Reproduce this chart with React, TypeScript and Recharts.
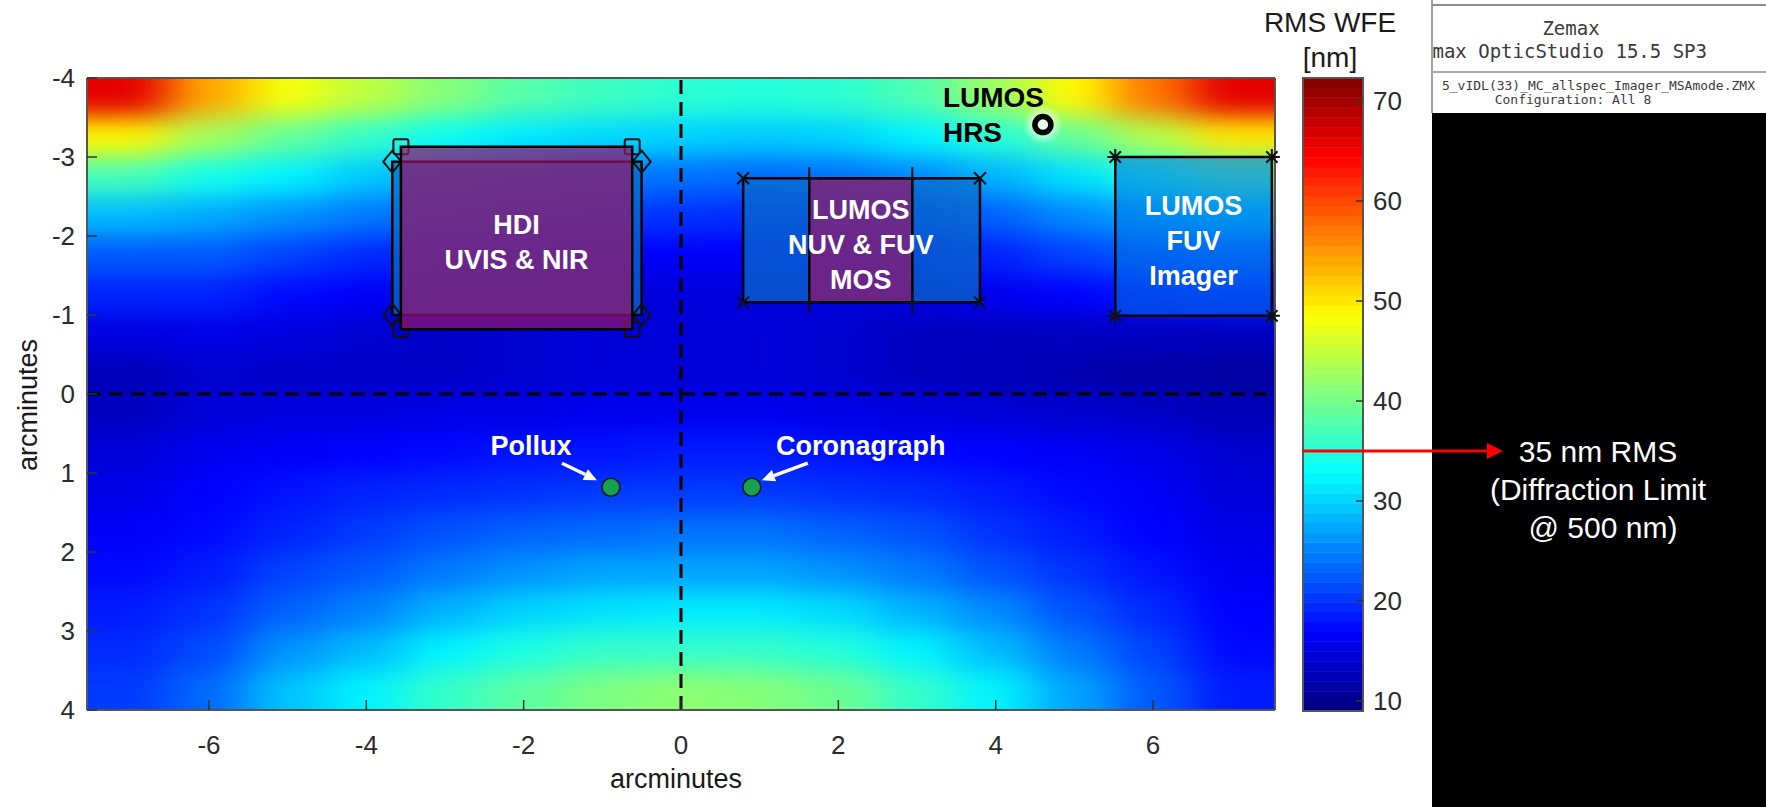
import React from 'react'
import { ScatterChart, Scatter, XAxis, YAxis, ReferenceArea, ReferenceLine } from 'recharts'

// RMS wavefront error over the field, sampled on a 1' x 0.5' grid (arcmin, nm)
const FIELD_X = [-7, -6, -5, -4, -3, -2, -1, 0, 1, 2, 3, 4, 5, 6, 7]
const FIELD_Y = [-3.75, -3.25, -2.75, -2.25, -1.75, -1.25, -0.75, -0.25, 0.25, 0.75, 1.25, 1.75, 2.25, 2.75, 3.25, 3.75]
const RMS_WFE = [
  [66, 54, 48, 44.5, 41, 38, 36.5, 35.5, 35, 35.5, 37.5, 42.5, 49, 57, 66],
  [49, 43, 39, 36, 33.5, 31.5, 30.5, 30, 29.5, 30, 32, 35, 39, 44, 50],
  [37, 34, 32, 29.5, 27.5, 26, 24.5, 24, 23.5, 24, 25.5, 28, 31, 34.5, 38],
  [28.5, 27.5, 26, 24.5, 23, 21.5, 20.5, 20, 19.5, 20, 21, 23, 25.5, 27.5, 29],
  [22.5, 22.5, 21, 19.5, 18.5, 17.5, 17, 16.5, 16.5, 17, 17.5, 19, 21, 22.5, 23],
  [19, 19, 17.5, 16.5, 15.5, 15, 14.8, 14.8, 14.8, 14.8, 15, 16, 17, 18.5, 19],
  [15, 15.5, 15, 14, 13.5, 14, 14.5, 14.5, 14.5, 14, 13, 13, 13, 13, 13],
  [12.5, 14, 13.5, 13.5, 13.5, 14, 14.5, 14.5, 14.5, 14, 13, 12.5, 12, 11.5, 11],
  [13, 14.5, 15, 15, 15.5, 15.5, 16, 16, 16, 15.5, 15, 14.5, 14, 13.5, 12.5],
  [14.5, 16, 16.5, 17, 17.5, 18, 18, 18.5, 18.5, 18, 17.5, 17, 16.5, 15.5, 14],
  [15.5, 17, 18, 19, 19.5, 20, 20.5, 20.5, 20.5, 20, 19.5, 18.5, 17.5, 16.5, 14.5],
  [16.5, 17.5, 19, 20.5, 22, 23, 23.5, 24, 24, 23, 22, 20, 18.5, 17, 15.5],
  [17.5, 18.5, 21, 22.5, 24.5, 26, 27, 27, 27, 26, 24.5, 22, 20, 18, 16],
  [18.5, 20, 23, 25, 28, 30, 31, 31.5, 31.5, 30.5, 28, 25.5, 22, 19.5, 17],
  [19.5, 21.5, 26, 28.5, 32, 34.5, 36, 36, 36, 35, 32, 28.5, 24.5, 21, 17.5],
  [20.5, 23.5, 29, 32, 36, 38.5, 40.5, 41.5, 41, 39.5, 36, 32, 27, 22.5, 18.5],
]

const X_TICKS = [-6, -4, -2, 0, 2, 4, 6]
const Y_TICKS = [-4, -3, -2, -1, 0, 1, 2, 3, 4]
const CBAR_TICKS = [10, 20, 30, 40, 50, 60, 70]
const CBAR_MIN = 9
const CBAR_MAX = 72.3
const DIFFRACTION_LIMIT_NM = 35

const X_LIMIT = 7.55
const Y_LIMIT = 4

// instrument footprints (arcmin)
const HDI_NIR = { x1: -3.67, x2: -0.5, y1: -2.94, y2: -1.0 }
const HDI_UVIS = { x1: -3.56, x2: -0.62, y1: -3.13, y2: -0.82 }
const MOS_FIELD = { x1: 0.79, x2: 3.8, y1: -2.73, y2: -1.16 }
const MOS_NUV = { x1: 1.63, x2: 2.94, y1: -2.73, y2: -1.16 }
const FUV_IMAGER = { x1: 5.52, x2: 7.51, y1: -3.0, y2: -0.99 }
const HRS_APERTURE = [{ x: 4.6, y: -3.41 }]
const TARGETS = [
  { name: 'Pollux', x: -0.89, y: 1.18 },
  { name: 'Coronagraph', x: 0.9, y: 1.18 },
]

const FONT = '"Liberation Sans", Arial, Helvetica, sans-serif'
const MONO = '"DejaVu Sans Mono", "Liberation Mono", monospace'

const PLOT = { left: 87, top: 78, right: 1275, bottom: 710 }
const PX_X = (PLOT.right - PLOT.left) / (2 * X_LIMIT)
const PX_Y = (PLOT.bottom - PLOT.top) / (2 * Y_LIMIT)
const STEP_X = FIELD_X[1] - FIELD_X[0]
const STEP_Y = FIELD_Y[1] - FIELD_Y[0]
const EDGE_PAD = 70

// MATLAB-style jet colormap
function jet(f: number) {
  const t = Math.min(1, Math.max(0, f))
  const ch = (k: number) => Math.round(255 * Math.min(1, Math.max(0, 1.5 - Math.abs(4 * t - k))))
  return `rgb(${ch(3)},${ch(2)},${ch(1)})`
}
const wfeColor = (v: number) => jet((v - CBAR_MIN) / (CBAR_MAX - CBAR_MIN))

const heatCells = FIELD_Y.flatMap((y, r) => FIELD_X.map((x, c) => ({ x, y, v: RMS_WFE[r][c] })))

const CBAR_LEVELS = 64
const cbarBands = Array.from({ length: CBAR_LEVELS }, (_, i) => {
  const step = (CBAR_MAX - CBAR_MIN) / CBAR_LEVELS
  return { y1: CBAR_MIN + i * step, y2: CBAR_MIN + (i + 1) * step, fill: jet((i + 0.5) / CBAR_LEVELS) }
})

type Box = { x1: number; x2: number; y1: number; y2: number }
const corners = (b: Box) => [
  { x: b.x1, y: b.y1 },
  { x: b.x2, y: b.y1 },
  { x: b.x1, y: b.y2 },
  { x: b.x2, y: b.y2 },
]

const TARGET_LABELS: Record<string, { tx: number; ax1: number; ay1: number; ax2: number; ay2: number }> = {
  Pollux: { tx: -80, ax1: -49, ay1: -24, ax2: -14, ay2: -7 },
  Coronagraph: { tx: 109, ax1: 56, ay1: -24, ax2: 10, ay2: -7 },
}

function HeatCell(props: any) {
  const { cx, cy, payload } = props
  if (cx == null || cy == null || !payload) return null
  const hw = (STEP_X * PX_X) / 2 + 0.5
  const hh = (STEP_Y * PX_Y) / 2 + 0.5
  let left = cx - hw
  let right = cx + hw
  let top = cy - hh
  let bottom = cy + hh
  if (payload.x === FIELD_X[0]) left -= EDGE_PAD
  if (payload.x === FIELD_X[FIELD_X.length - 1]) right += EDGE_PAD
  if (payload.y === FIELD_Y[0]) top -= EDGE_PAD
  if (payload.y === FIELD_Y[FIELD_Y.length - 1]) bottom += EDGE_PAD
  return <rect x={left} y={top} width={right - left} height={bottom - top} fill={wfeColor(payload.v)} />
}

const ink = { fill: 'none', stroke: '#111', strokeWidth: 2 }

function SquareMark({ cx, cy }: any) {
  return <rect x={cx - 7.5} y={cy - 7.5} width={15} height={15} rx={2} {...ink} />
}
function DiamondMark({ cx, cy }: any) {
  return <path d={`M${cx},${cy - 11}L${cx + 9},${cy}L${cx},${cy + 11}L${cx - 9},${cy}Z`} {...ink} />
}
function CrossMark({ cx, cy }: any) {
  const s = 6
  return <path d={`M${cx - s},${cy - s}L${cx + s},${cy + s}M${cx - s},${cy + s}L${cx + s},${cy - s}`} {...ink} />
}
function PlusMark({ cx, cy }: any) {
  return <path d={`M${cx},${cy - 11}L${cx},${cy + 11}M${cx - 9},${cy}L${cx + 9},${cy}`} {...ink} />
}
function StarMark({ cx, cy }: any) {
  const s = 8
  const d = 5.7
  return (
    <path
      d={`M${cx},${cy - s}L${cx},${cy + s}M${cx - s},${cy}L${cx + s},${cy}M${cx - d},${cy - d}L${cx + d},${cy + d}M${cx - d},${cy + d}L${cx + d},${cy - d}`}
      {...ink}
    />
  )
}

function HrsMark({ cx, cy }: any) {
  return (
    <g>
      <circle cx={cx} cy={cy} r={20} fill="url(#hrsGlow)" />
      <circle cx={cx} cy={cy} r={8} fill="none" stroke="#000" strokeWidth={5.5} />
      <text x={cx - 100} y={cy - 18} fontSize={28} fontWeight="bold" fill="#000">LUMOS</text>
      <text x={cx - 100} y={cy + 17} fontSize={28} fontWeight="bold" fill="#000">HRS</text>
    </g>
  )
}

function TargetMark({ cx, cy, payload }: any) {
  const lay = TARGET_LABELS[payload.name]
  const x1 = cx + lay.ax1
  const y1 = cy + lay.ay1
  const x2 = cx + lay.ax2
  const y2 = cy + lay.ay2
  const ang = Math.atan2(y2 - y1, x2 - x1)
  const hl = 13
  const hw = 6
  const bx = x2 - hl * Math.cos(ang)
  const by = y2 - hl * Math.sin(ang)
  const px = -Math.sin(ang) * hw
  const py = Math.cos(ang) * hw
  return (
    <g>
      <line x1={x1} y1={y1} x2={bx} y2={by} stroke="#fff" strokeWidth={3.5} />
      <polygon points={`${x2},${y2} ${bx + px},${by + py} ${bx - px},${by - py}`} fill="#fff" />
      <circle cx={cx} cy={cy} r={9} fill="#17a04e" stroke="#1a1a1a" strokeWidth={1.6} />
      <text x={cx + lay.tx} y={cy - 32} textAnchor="middle" fontSize={27} fontWeight="bold" fill="#fff">
        {payload.name}
      </text>
    </g>
  )
}

function BoxLabel(props: any) {
  const { viewBox, lines } = props
  if (!viewBox) return null
  const cx = viewBox.x + viewBox.width / 2
  const cy = viewBox.y + viewBox.height / 2 + 4
  const lh = 35
  const first = cy - ((lines.length - 1) * lh) / 2
  return (
    <text textAnchor="middle" fontSize={27} fontWeight="bold" fill="#fff">
      {lines.map((t: string, i: number) => (
        <tspan key={i} x={cx} y={first + i * lh + 10}>
          {t}
        </tspan>
      ))}
    </text>
  )
}

function XTitle(props: any) {
  const { viewBox } = props
  if (!viewBox) return null
  return (
    <text x={viewBox.x + viewBox.width / 2 - 5} y={viewBox.y + 78} textAnchor="middle" fontSize={27} fill="#1a1a1a">
      arcminutes
    </text>
  )
}

function YTitle(props: any) {
  const { viewBox } = props
  if (!viewBox) return null
  const x = viewBox.x + 10
  const y = viewBox.y + viewBox.height / 2 + 11
  return (
    <text x={x} y={y} transform={`rotate(-90 ${x} ${y})`} textAnchor="middle" fontSize={27} fill="#1a1a1a">
      arcminutes
    </text>
  )
}

// tick marks only, no text (mirrored box ticks)
const NoTickText = () => <g />

function LimitArrow({ cx, cy }: any) {
  const len = 200
  return (
    <g>
      <line x1={cx} y1={cy} x2={cx + len - 14} y2={cy} stroke="#ff0000" strokeWidth={3} />
      <polygon points={`${cx + len},${cy} ${cx + len - 16},${cy - 8} ${cx + len - 16},${cy + 8}`} fill="#ff0000" />
    </g>
  )
}

const axisLine = { stroke: '#555', strokeWidth: 2 }
const tickLine = { stroke: '#333', strokeWidth: 1.5 }
const tickText = { fill: '#2b2b2b', fontSize: 26 }

function FieldMap() {
  return (
    <ScatterChart width={1290} height={807} margin={{ top: 77, right: 14, bottom: 37, left: 27 }}>
      <XAxis
        xAxisId="x"
        type="number"
        dataKey="x"
        domain={[-X_LIMIT, X_LIMIT]}
        ticks={X_TICKS}
        height={60}
        tickSize={-10}
        tickMargin={36}
        axisLine={axisLine}
        tickLine={tickLine}
        tick={tickText}
        label={<XTitle />}
      />
      <XAxis
        xAxisId="top"
        orientation="top"
        type="number"
        dataKey="x"
        domain={[-X_LIMIT, X_LIMIT]}
        ticks={X_TICKS}
        height={1}
        tickSize={-10}
        axisLine={axisLine}
        tickLine={tickLine}
        tick={NoTickText}
      />
      <YAxis
        yAxisId="y"
        type="number"
        dataKey="y"
        domain={[-Y_LIMIT, Y_LIMIT]}
        reversed
        ticks={Y_TICKS}
        width={60}
        tickSize={-10}
        tickMargin={22}
        axisLine={axisLine}
        tickLine={tickLine}
        tick={tickText}
        label={<YTitle />}
      />
      <YAxis
        yAxisId="right"
        orientation="right"
        type="number"
        dataKey="y"
        domain={[-Y_LIMIT, Y_LIMIT]}
        reversed
        ticks={Y_TICKS}
        width={1}
        tickSize={-10}
        axisLine={axisLine}
        tickLine={tickLine}
        tick={NoTickText}
      />
      <XAxis xAxisId="hx" type="number" dataKey="x" domain={[-X_LIMIT, X_LIMIT]} hide height={0} allowDataOverflow />
      <YAxis yAxisId="hy" type="number" dataKey="y" domain={[-Y_LIMIT, Y_LIMIT]} reversed hide width={0} allowDataOverflow />

      <Scatter
        xAxisId="hx"
        yAxisId="hy"
        data={heatCells}
        shape={HeatCell}
        className="wfe-heat"
        isAnimationActive={false}
        zIndex={1}
      />

      <ReferenceLine xAxisId="x" yAxisId="y" x={0} stroke="#000" strokeWidth={3} strokeDasharray="14 8" zIndex={50} />
      <ReferenceLine xAxisId="x" yAxisId="y" y={0} stroke="#000" strokeWidth={3} strokeDasharray="14 8" zIndex={50} />

      {/* HDI: NIR footprint under the UVIS footprint */}
      <ReferenceArea xAxisId="x" yAxisId="y" {...HDI_NIR} fill="#0a6ec8" fillOpacity={0.72} stroke="#000" strokeWidth={2.5} zIndex={110} />
      <Scatter xAxisId="x" yAxisId="y" data={corners(HDI_NIR)} shape={DiamondMark} isAnimationActive={false} zIndex={115} />
      <Scatter xAxisId="x" yAxisId="y" data={corners(HDI_UVIS)} shape={SquareMark} isAnimationActive={false} zIndex={115} />
      <ReferenceArea
        xAxisId="x"
        yAxisId="y"
        {...HDI_UVIS}
        fill="rgb(150,20,105)"
        fillOpacity={0.7}
        stroke="#000"
        strokeWidth={2.5}
        zIndex={120}
        label={<BoxLabel lines={['HDI', 'UVIS & NIR']} />}
      />

      {/* LUMOS multi-object spectrograph */}
      <ReferenceArea xAxisId="x" yAxisId="y" {...MOS_FIELD} fill="#0a6ec8" fillOpacity={0.72} stroke="#000" strokeWidth={2.5} zIndex={110} />
      <ReferenceArea
        xAxisId="x"
        yAxisId="y"
        {...MOS_NUV}
        fill="rgb(150,20,105)"
        fillOpacity={0.7}
        stroke="#000"
        strokeWidth={2.5}
        zIndex={120}
        label={<BoxLabel lines={['LUMOS', 'NUV & FUV', 'MOS']} />}
      />

      {/* LUMOS FUV imager */}
      <ReferenceArea
        xAxisId="x"
        yAxisId="y"
        {...FUV_IMAGER}
        fill="#006ee6"
        fillOpacity={0.55}
        stroke="#000"
        strokeWidth={2.5}
        zIndex={110}
        label={<BoxLabel lines={['LUMOS', 'FUV', 'Imager']} />}
      />

      <Scatter xAxisId="x" yAxisId="y" data={corners(MOS_FIELD)} shape={CrossMark} isAnimationActive={false} zIndex={620} />
      <Scatter xAxisId="x" yAxisId="y" data={corners(MOS_NUV)} shape={PlusMark} isAnimationActive={false} zIndex={620} />
      <Scatter xAxisId="x" yAxisId="y" data={corners(FUV_IMAGER)} shape={StarMark} isAnimationActive={false} zIndex={620} />
      <Scatter xAxisId="x" yAxisId="y" data={HRS_APERTURE} shape={HrsMark} isAnimationActive={false} zIndex={630} />
      <Scatter xAxisId="x" yAxisId="y" data={TARGETS} shape={TargetMark} isAnimationActive={false} zIndex={630} />
    </ScatterChart>
  )
}

function ColorBar() {
  return (
    <ScatterChart width={516} height={807} margin={{ top: 78, right: 343, bottom: 96, left: 53 }}>
      <XAxis type="number" dataKey="x" domain={[0, 1]} hide height={0} />
      <YAxis
        type="number"
        dataKey="y"
        orientation="right"
        domain={[CBAR_MIN, CBAR_MAX]}
        ticks={CBAR_TICKS}
        width={60}
        tickSize={-7}
        tickMargin={17}
        axisLine={false}
        tickLine={tickLine}
        tick={tickText}
      />
      {cbarBands.map((b, i) => (
        <ReferenceArea
          key={i}
          x1={0}
          x2={1}
          y1={b.y1}
          y2={b.y2}
          fill={b.fill}
          fillOpacity={1}
          stroke={b.fill}
          strokeWidth={0.6}
          zIndex={100}
        />
      ))}
      <ReferenceArea x1={0} x2={1} y1={CBAR_MIN} y2={CBAR_MAX} fill="none" stroke="#555" strokeWidth={2} zIndex={150} />
      <Scatter data={[{ x: 0, y: DIFFRACTION_LIMIT_NM }]} shape={LimitArrow} isAnimationActive={false} zIndex={600} />
    </ScatterChart>
  )
}

export default function App() {
  return (
    <div
      style={{
        position: 'fixed',
        left: 0,
        top: 0,
        width: 1766,
        height: 807,
        background: '#fff',
        fontFamily: FONT,
        overflow: 'hidden',
      }}
    >
      <style>{`.wfe-heat { filter: url(#heatBlur); }`}</style>
      <svg width={0} height={0} style={{ position: 'absolute' }}>
        <defs>
          <filter id="heatBlur" x="-5%" y="-5%" width="110%" height="110%" colorInterpolationFilters="sRGB">
            <feGaussianBlur stdDeviation="24 12" />
          </filter>
          <radialGradient id="hrsGlow">
            <stop offset="0%" stopColor="#fff" stopOpacity={0.95} />
            <stop offset="55%" stopColor="#fff" stopOpacity={0.55} />
            <stop offset="100%" stopColor="#fff" stopOpacity={0} />
          </radialGradient>
        </defs>
      </svg>

      {/* black side panel below the Zemax header */}
      <div style={{ position: 'absolute', left: 1432, top: 113, width: 334, height: 694, background: '#000' }} />

      <div style={{ position: 'absolute', left: 0, top: 0 }}>
        <FieldMap />
      </div>
      <div style={{ position: 'absolute', left: 1250, top: 0 }}>
        <ColorBar />
      </div>

      <svg width={1766} height={807} style={{ position: 'absolute', left: 0, top: 0, pointerEvents: 'none' }}>
        <defs>
          <clipPath id="zemaxClip">
            <rect x={1433} y={0} width={333} height={113} />
          </clipPath>
        </defs>
        <text x={1330} y={32} textAnchor="middle" fontSize={28} fill="#1a1a1a">RMS WFE</text>
        <text x={1330} y={67} textAnchor="middle" fontSize={28} fill="#1a1a1a">[nm]</text>

        <line x1={1432} y1={0} x2={1432} y2={113} stroke="#a0a0a0" strokeWidth={2} />
        <line x1={1432} y1={5} x2={1766} y2={5} stroke="#8c8c8c" strokeWidth={2} />
        <line x1={1432} y1={72} x2={1766} y2={72} stroke="#a8a8a8" strokeWidth={2} />
        <g clipPath="url(#zemaxClip)" fontFamily={MONO} fill="#3a3a3a">
          <text x={1571} y={35} textAnchor="middle" fontSize={19}>Zemax</text>
          <text x={1707} y={58} textAnchor="end" fontSize={19}>Zemax OpticStudio 15.5 SP3</text>
          <text x={1755} y={90} textAnchor="end" fontSize={13}>5_vIDL(33)_MC_allspec_Imager_MSAmode.ZMX</text>
          <text x={1573} y={104} textAnchor="middle" fontSize={13}>Configuration: All 8</text>
        </g>

        <g fill="#fff" fontSize={30} textAnchor="middle">
          <text x={1598} y={462}>35 nm RMS</text>
          <text x={1598} y={500}>(Diffraction Limit</text>
          <text x={1603} y={538}>@ 500 nm)</text>
        </g>
      </svg>
    </div>
  )
}
